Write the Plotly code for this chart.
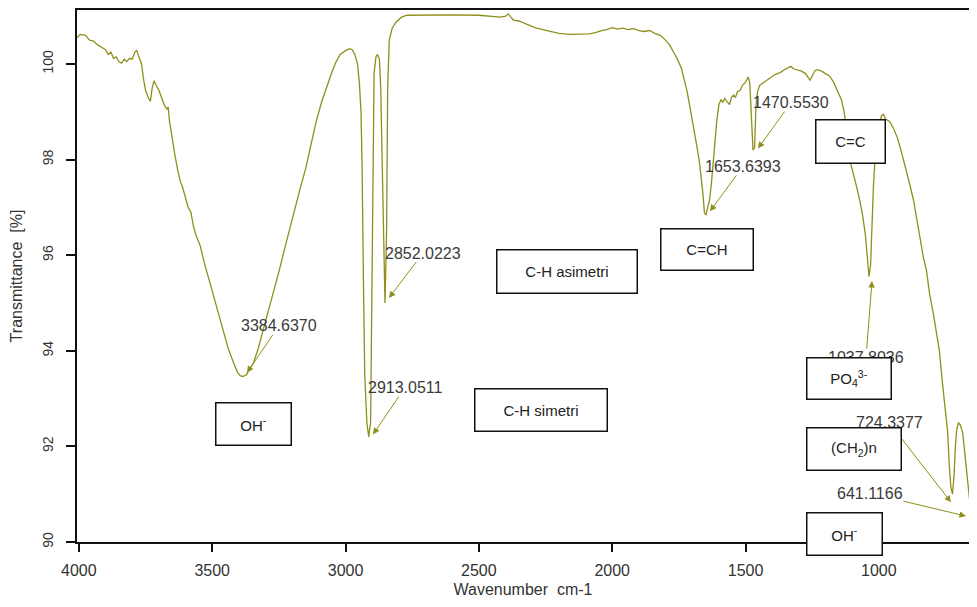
import plotly.graph_objects as go

# ---- data ----
wavenumber = [
    4007, 3995, 3975, 3960, 3945, 3930, 3915, 3900, 3890, 3880, 3870, 3860, 3850, 3840, 3830,
    3820, 3810, 3800, 3790, 3783, 3775, 3765, 3758, 3750, 3740, 3732, 3725, 3718, 3710, 3700,
    3690, 3680, 3670, 3665, 3660, 3650, 3640, 3630, 3620, 3610, 3600, 3590, 3580, 3570, 3560,
    3545, 3530, 3515, 3500, 3480, 3460, 3440, 3420, 3405, 3395, 3385, 3372, 3360, 3345, 3330,
    3310, 3290, 3270, 3250, 3230, 3210, 3190, 3170, 3150, 3130, 3110, 3090, 3070, 3050, 3035,
    3020, 3000, 2985, 2975, 2965, 2955, 2948, 2942, 2938, 2933, 2928, 2920, 2913, 2906, 2902,
    2898, 2893, 2886, 2880, 2873, 2868, 2862, 2857, 2852, 2846, 2842, 2836, 2825, 2810, 2790,
    2770, 2700, 2600, 2500, 2450, 2420, 2400, 2390, 2380, 2370, 2350, 2330, 2310, 2290, 2260,
    2230, 2200, 2160, 2120, 2085, 2060, 2040, 2020, 2000, 1980, 1960, 1940, 1920, 1900, 1880,
    1860, 1840, 1820, 1800, 1785, 1770, 1755, 1740, 1730, 1720, 1710, 1700, 1690, 1680, 1673,
    1665, 1660, 1654, 1648, 1642, 1635, 1628, 1622, 1615, 1608, 1600, 1592, 1585, 1578, 1570,
    1560, 1553, 1545, 1538, 1530, 1520, 1511, 1500, 1490, 1484, 1478, 1472, 1466, 1461, 1455,
    1447, 1440, 1430, 1421, 1410, 1400, 1390, 1380, 1370, 1355, 1340, 1330, 1320, 1305, 1290,
    1275, 1265, 1258, 1250, 1240, 1230, 1215, 1200, 1185, 1170, 1155, 1140, 1130, 1120, 1110,
    1100, 1090, 1080, 1070, 1060, 1050, 1043, 1037, 1031, 1026, 1020, 1012, 1000, 990, 983,
    975, 960, 945, 930, 915, 900, 885, 870, 859, 845, 833, 822, 810, 795, 784,
    773, 762, 750, 742, 736, 730, 724, 718, 713, 708, 701, 695, 686, 678, 672,
    665, 660, 653, 645, 641, 634,
]
transmittance = [
    100.55, 100.62, 100.60, 100.50, 100.48, 100.40, 100.35, 100.30, 100.20, 100.25, 100.12, 100.15, 100.05, 100.02, 100.10,
    100.05, 100.12, 100.10, 100.25, 100.28, 100.15, 100.00, 99.70, 99.45, 99.30, 99.22, 99.50, 99.65, 99.55, 99.45,
    99.30, 99.15, 99.05, 99.10, 98.80, 98.40, 98.10, 97.80, 97.55, 97.40, 97.20, 97.00, 96.90, 96.60, 96.40,
    96.20, 95.85, 95.55, 95.25, 94.80, 94.40, 94.05, 93.75, 93.55, 93.48, 93.46, 93.50, 93.60, 93.75, 94.00,
    94.40, 94.80, 95.25, 95.65, 96.10, 96.55, 96.95, 97.40, 97.80, 98.30, 98.80, 99.20, 99.55, 99.85, 100.05,
    100.20, 100.28, 100.32, 100.30, 100.20, 100.00, 99.60, 99.00, 97.90, 95.50, 93.50, 92.50, 92.20, 92.50, 95.00,
    98.00, 99.80, 100.15, 100.20, 100.10, 99.50, 97.80, 96.00, 95.00, 96.50, 99.50, 100.50, 100.75, 100.88, 100.98,
    101.02, 101.03, 101.03, 101.02, 101.00, 100.98, 101.00, 101.05, 100.98, 100.92, 100.90, 100.85, 100.80, 100.76, 100.72,
    100.68, 100.64, 100.62, 100.62, 100.63, 100.66, 100.70, 100.72, 100.76, 100.73, 100.75, 100.72, 100.74, 100.70, 100.68,
    100.70, 100.64, 100.60, 100.50, 100.40, 100.25, 100.10, 99.90, 99.70, 99.45, 99.15, 98.85, 98.50, 98.20, 97.95,
    97.60, 97.30, 96.88, 96.85, 97.00, 97.15, 97.50, 97.90, 98.40, 98.80, 99.15, 99.25, 99.20, 99.28, 99.22,
    99.15, 99.30, 99.35, 99.30, 99.42, 99.45, 99.56, 99.62, 99.73, 99.60, 98.90, 98.20, 98.25, 99.10, 99.42,
    99.55, 99.58, 99.62, 99.67, 99.70, 99.75, 99.78, 99.80, 99.82, 99.88, 99.92, 99.95, 99.90, 99.88, 99.85,
    99.80, 99.70, 99.66, 99.75, 99.86, 99.88, 99.85, 99.80, 99.75, 99.62, 99.45, 99.25, 99.00, 98.50, 98.00,
    97.80, 97.60, 97.35, 97.10, 96.80, 96.40, 95.95, 95.55, 95.80, 96.60, 97.50, 98.20, 98.70, 98.92, 98.95,
    98.85, 98.80, 98.65, 98.45, 98.15, 97.85, 97.50, 97.15, 96.80, 96.40, 95.95, 95.70, 95.20, 94.75, 94.35,
    94.00, 93.35, 92.75, 92.30, 91.60, 91.15, 91.00, 91.40, 92.00, 92.35, 92.50, 92.45, 92.30, 91.90, 91.55,
    91.15, 90.90, 90.70, 90.55, 90.50, 90.45,
]
y_ticks = [90, 92, 94, 96, 98, 100]
x_ticks = [4000, 3500, 3000, 2500, 2000, 1500, 1000]

peak_labels = ["3384.6370", "2913.0511", "2852.0223", "1653.6393", "1470.5530",
               "1037.8036", "724.3377", "641.1166"]
group_labels = ["OH<sup>-</sup>", "C-H simetri", "C-H asimetri", "C=CH", "C=C",
                "PO<sub>4</sub><sup>3-</sup>", "(CH<sub>2</sub>)n", "OH<sup>-</sup>"]

# ---- geometry ----
OFF = 8                      # page body margin of the html page
W, H = 961, 591
ML, MR, MT, MB = 69, 0, 0, 57
SCALE = 900 / 3375           # px per wavenumber unit in the reference
X_RANGE = [4007, 4007 - (W - ML - MR) / SCALE]
Y_RANGE = [90, 101.13]
PX0, PX1 = OFF + ML, OFF + W - MR          # screen x of plot edges
PY0, PY1 = OFF + MT, OFF + H - MB          # screen y of plot edges

def px2x(px):
    return X_RANGE[0] + (px - PX0) / (PX1 - PX0) * (X_RANGE[1] - X_RANGE[0])

def py2y(py):
    return Y_RANGE[1] - (py - PY0) / (PY1 - PY0) * (Y_RANGE[1] - Y_RANGE[0])

LINE = "#8f8f1c"
FONT = "Liberation Sans, Arial, sans-serif"

fig = go.Figure()
fig.add_trace(go.Scatter(x=wavenumber, y=transmittance, mode="lines",
                         line=dict(color=LINE, width=1.3), hoverinfo="skip",
                         showlegend=False))

annotations = []
# peak labels: (text centre on screen, arrow head on screen)
peak_geom = [
    ((279, 325), (247, 372)),
    ((405, 387), (373, 434)),
    ((423, 252), (389, 297)),
    ((743, 165), (710, 210)),
    ((791, 101), (758, 147)),
    ((866, 357), (872, 280)),
    ((889, 422), (951, 502)),
    ((870, 493), (966, 516)),
]
for lab, (tc, head) in zip(peak_labels, peak_geom):
    annotations.append(dict(x=px2x(head[0]), y=py2y(head[1]), xref="x", yref="y",
                            ax=px2x(tc[0]), ay=py2y(tc[1]), axref="x", ayref="y",
                            text=lab, showarrow=True, arrowhead=2, arrowsize=1.3,
                            arrowwidth=1, arrowcolor=LINE, borderpad=0,
                            font=dict(family=FONT, size=16, color="#3a3a3a")))

# boxes: (centre on screen, width, height)
box_geom = [
    ((253, 424), 77, 44),
    ((541, 409), 134, 44),
    ((567, 270), 142, 45),
    ((707, 248), 94, 43),
    ((850, 140), 71, 45),
    ((849, 378), 86, 43),
    ((854, 449), 96, 44),
    ((844, 534), 77, 44),
]
for lab, (c, bw, bh) in zip(group_labels, box_geom):
    annotations.append(dict(x=px2x(c[0]), y=py2y(c[1]), xref="x", yref="y",
                            text=lab, showarrow=False, width=bw - 3, height=bh - 3,
                            borderpad=0, bordercolor="#111111", borderwidth=1.5,
                            bgcolor="white", align="center", valign="middle",
                            font=dict(family=FONT, size=15, color="#222222")))

fig.update_layout(
    width=W, height=H,
    margin=dict(l=ML, r=MR, t=MT, b=MB, pad=0),
    paper_bgcolor="white", plot_bgcolor="white",
    font=dict(family=FONT, color="#333333"),
    annotations=annotations,
    xaxis=dict(range=X_RANGE, tickvals=x_ticks, ticktext=[str(v) for v in x_ticks],
               showgrid=False, zeroline=False, showline=True, mirror=True,
               linecolor="#111111", linewidth=1.5, ticks="outside", ticklen=8,
               tickwidth=1.5, tickcolor="#111111", ticklabelstandoff=5,
               tickfont=dict(family=FONT, size=16, color="#333333"),
               title=dict(text="Wavenumber  cm-1", font=dict(family=FONT, size=16, color="#333333"),
                          standoff=6)),
    yaxis=dict(range=Y_RANGE, tickvals=y_ticks, ticktext=[str(v) for v in y_ticks],
               showgrid=False, zeroline=False, showline=True, mirror=False,
               linecolor="#111111", linewidth=1.5, ticks="outside", ticklen=9,
               tickwidth=1.5, tickcolor="#111111", tickangle=-90, ticklabelstandoff=8,
               tickfont=dict(family=FONT, size=14, color="#333333"),
               title=dict(text="Transmittance  [%]", font=dict(family=FONT, size=16, color="#333333"),
                          standoff=14)),
)

fig.write_html("out.html")
